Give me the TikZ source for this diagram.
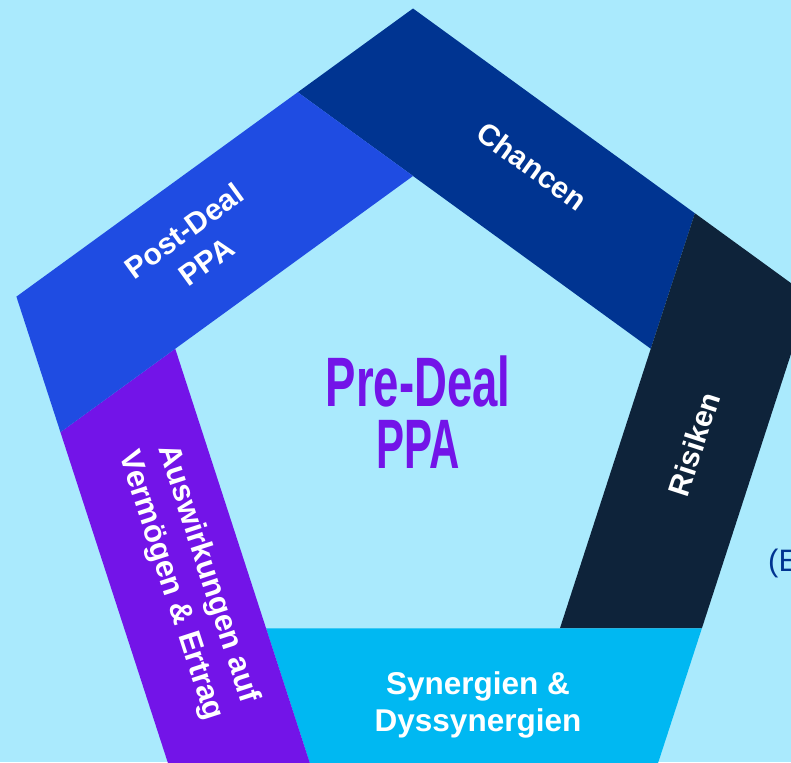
\documentclass[tikz,border=0pt]{standalone}
\usepackage{fontspec}
\setmainfont{Liberation Sans}
\definecolor{bgc}{RGB}{170,234,253}
\definecolor{chancenc}{RGB}{0,52,145}
\definecolor{postc}{RGB}{31,76,226}
\definecolor{risikenc}{RGB}{14,35,58}
\definecolor{auswc}{RGB}{115,20,232}
\definecolor{sync}{RGB}{0,184,242}
\tikzset{
  lbl/.style={text=white, inner sep=0pt, align=center, font=\fontsize{30}{38}\selectfont\bfseries},
  prelbl/.style={text=auswc, inner sep=0pt, align=center, font=\fontsize{70}{62}\selectfont\bfseries},
  sidelbl/.style={text=chancenc, inner sep=0pt, anchor=base west, font=\fontsize{31}{31}\selectfont}
}
\begin{document}
\begin{tikzpicture}[x=1pt,y=1pt]
\useasboundingbox (0,0) rectangle (791,-762);
\fill[bgc] (0,0) rectangle (791,-762);
\begin{scope}
\clip (0,0) rectangle (791,-762);
% outer and inner regular pentagons, common centre
\foreach \i/\a in {1/90,2/18,3/-54,4/-126,5/162}{
  \coordinate (O\i) at ([shift={(413,-425.5)}]\a:417);
  \coordinate (I\i) at ([shift={(413,-426)}]\a:250);
}
% pinwheel division points: extension of each inner edge to the outer edge
\coordinate (P51) at (intersection of I1--I2 and O5--O1);
\coordinate (P12) at (intersection of I2--I3 and O1--O2);
\coordinate (P23) at (intersection of I3--I4 and O2--O3);
\coordinate (P34) at (intersection of I4--I5 and O3--O4);
\coordinate (P45) at (intersection of I5--I1 and O4--O5);
\fill[chancenc] (P51) -- (O1) -- (P12) -- (I2) -- (I1) -- cycle;
\fill[risikenc] (P12) -- (O2) -- (P23) -- (I3) -- (I2) -- cycle;
\fill[sync]     (P23) -- (O3) -- (P34) -- (I4) -- (I3) -- cycle;
\fill[auswc]    (P34) -- (O4) -- (P45) -- (I5) -- (I4) -- cycle;
\fill[postc]    (P45) -- (O5) -- (P51) -- (I1) -- (I5) -- cycle;
\node[sidelbl] (side) at (768,-571) {(E};
\end{scope}
\node[lbl, rotate=-36] (chancen) at (532,-166) {Chancen};
\node[lbl, rotate=72] (risiken) at (694,-444) {Risiken};
\node[lbl, rotate=36] (post) at (195,-246) {Post-Deal\\PPA};
\node[lbl, rotate=-72, font=\fontsize{31}{39}\selectfont\bfseries] (ausw) at (189,-580) {Auswirkungen auf\\Vermögen \& Ertrag};
\node[lbl, font=\fontsize{31.5}{37}\selectfont\bfseries] (syn) at (478,-705) {Synergien \&\\Dyssynergien};
\node[prelbl] (pre) at (418,-412.5) {\scalebox{0.65}[1]{Pre-Deal}\\\scalebox{0.6}[1]{PPA}};
\end{tikzpicture}
\end{document}
